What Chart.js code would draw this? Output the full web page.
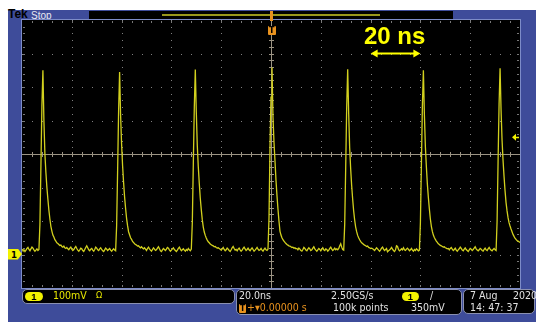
<!DOCTYPE html>
<html><head><meta charset="utf-8">
<script src="https://cdn.jsdelivr.net/npm/chart.js@4"></script>
<style>
html,body{margin:0;padding:0;background:#fff;}
#wrap{position:relative;width:536px;height:322px;overflow:hidden;background:#fff;}
#frame{position:absolute;left:8px;top:10px;width:528px;height:312px;background:#3e4c9a;}
#c{position:absolute;left:0;top:0;}
.ov{position:absolute;}
.t{position:absolute;font-family:"Liberation Sans Narrow","DejaVu Sans Condensed",sans-serif;font-size:10.5px;line-height:11px;color:#e2e2e2;white-space:pre;}
.y{color:#e8e800;}
.o{color:#e8921e;}
.box{position:absolute;background:#000;border:1px solid #8a90b0;border-radius:5px;box-sizing:border-box;}
.pill{position:absolute;background:#f2f200;border-radius:6px;color:#000;font-family:"Liberation Sans Narrow",sans-serif;font-size:9.5px;font-weight:bold;line-height:9px;text-align:center;}
</style></head>
<body>
<div id="wrap">
<div id="frame"></div>
<div class="ov" style="left:89px;top:11px;width:364px;height:9px;background:#000;"></div>
<div class="ov" style="left:162px;top:14px;width:218px;height:1.5px;background:#9a981c;"></div>
<div class="t" style="left:8px;top:8.5px;font-family:'Liberation Sans',sans-serif;font-weight:bold;font-size:12px;color:#000;">Tek</div>
<div class="t" style="left:31px;top:9.5px;font-family:'Liberation Sans',sans-serif;font-size:10px;color:#e8e8f0;">Stop</div>
<canvas id="c" width="536" height="322"></canvas>
<div class="ov" style="left:270px;top:11px;width:3px;height:10px;background:#e8921e;"></div>
<div class="ov" style="left:268px;top:26px;width:8px;height:9px;background:#e8921e;border-radius:1px;"></div>
<div class="t" style="left:269px;top:24.5px;font-size:9px;font-weight:bold;color:#000;">T</div>
<div class="t" style="left:364px;top:22px;font-family:'Liberation Sans',sans-serif;font-weight:bold;font-size:24px;line-height:28px;color:#ffff00;">20 ns</div>
<div id="ch1" class="ov" style="left:8px;top:248px;width:14px;height:11px;background:#f2f200;clip-path:polygon(0 0,70% 0,100% 50%,70% 100%,0 100%);"><div class="t" style="left:3px;top:0px;font-size:9.5px;font-weight:bold;color:#000;">1</div></div>

<div class="box" style="left:22px;top:289px;width:213px;height:15px;"></div>
<div class="pill" style="left:25px;top:291.5px;width:18px;height:9.5px;">1</div>
<div class="t y" style="left:53px;top:290px;">100mV</div>
<div class="t y" style="left:96px;top:290px;font-size:9px;">Ω</div>

<div class="box" style="left:236px;top:289px;width:226px;height:26px;"></div>
<div class="t" style="left:239px;top:290px;">20.0ns</div>
<div class="t" style="left:331px;top:290px;">2.50GS/s</div>
<div class="pill" style="left:402px;top:291.5px;width:17px;height:9.5px;">1</div>
<div class="t" style="left:430px;top:290px;">/</div>
<div class="ov" style="left:239px;top:304px;width:7px;height:9px;background:#e8921e;border-radius:1px;"></div>
<div class="t" style="left:240px;top:302.5px;font-size:8.5px;font-weight:bold;color:#000;">T</div>
<div class="t o" style="left:247px;top:302px;">+▾0.00000 s</div>
<div class="t" style="left:333px;top:302px;">100k points</div>
<div class="t" style="left:411px;top:302px;">350mV</div>

<div class="box" style="left:463px;top:289px;width:72px;height:25px;"></div>
<div class="t" style="left:470px;top:290px;">7 Aug</div>
<div class="t" style="left:513px;top:290px;">2020</div>
<div class="t" style="left:470px;top:302px;">14: 47: 37</div>
</div>
<script>
// Oscilloscope settings
const timeStart = -100;      // ns (left edge of record)
const sampleInterval = 0.4;  // ns between plotted samples
const timeDivs = [-100,-80,-60,-40,-20,0,20,40,60,80,100]; // 20 ns/div
const voltDivs = [-100,0,100,200,300,400,500,600,700];     // 100 mV/div
const triggerLevel = 350;    // mV
const scaleArrow = [40, 60]; // ns, the "20 ns" marker
const scaleArrowLevel = 600; // mV

// Channel 1 voltage samples, mV
const voltage = [
16,12,14,9,13,18,21,15,11,17,22,19,14,10,13,17,12,15,
90,265,445,550,400,300,245,200,165,132,106,84,70,58,52,44,40,35,33,30,27,28,24,22,25,20,18,21,17,
14,19,22,16,12,15,20,24, 18,13,10,14,19,17,12,9, 15,21,26,20,14,11,16,18, 13,10,15,22,19,14,12,17, 20,15,11,9,14,19,16,12, 15,18,13,10,14,17,13,11,
85,250,430,545,415,330,265,215,172,138,108,86,68,59,50,45,39,36,32,30,28,25,26,22,20,23,19,17,20,
16,12,18,22,17,13,10,15, 20,16,12,14,19,23,17,11, 9,14,18,15,12,16,21,19, 14,10,13,17,20,15,12,9, 13,18,22,16,11,14,17,13, 10,15,12,18,14,11,16,
95,270,440,552,425,325,262,212,168,134,104,82,67,57,49,43,38,35,31,29,27,26,23,24,21,19,20,18,16,
13,17,21,15,11,14,19,16, 12,9,14,20,24,18,13,15, 11,16,19,14,10,13,18,22, 17,12,15,19,14,11,16,20, 15,10,13,17,21,16,12,14, 18,13,10,15,19,14,12,16,
110,320,470,558,410,335,280,222,176,136,100,70,58,50,44,40,36,33,30,28,26,25,23,21,22,19,20,17,18,
14,19,16,12,10,15,21,18, 13,11,16,20,17,12,14,19, 23,17,13,10,14,18,15,11, 16,20,14,12,17,15,10,13, 18,22,16,12,15,19,14,17, 14,18,26,32,22,15,13,
90,260,440,553,420,318,255,205,165,130,103,82,68,57,50,44,39,35,33,30,28,26,24,25,21,20,18,19,17,
15,12,16,20,17,13,10,14, 19,22,16,12,15,18,8,11, 13,17,21,16,12,9,14,26, 24,15,11,13,17,14,20,14, 12,16,19,15,11,14,18,13, 10,15,12,17,14,11,13,
95,268,445,550,418,322,262,210,170,136,106,84,69,58,51,45,40,36,32,30,27,26,24,22,23,20,19,17,18,
14,18,21,16,12,15,19,13, 10,14,17,22,18,13,11,16, 20,15,12,9,14,18,16,12, 15,19,23,17,13,11,14,18, 16,12,10,15,19,14,12,17, 21,16,13,11,15,18,14,12,
100,280,450,556,430,340,280,232,190,155,130,110,95,85,76,68,60,54,49,45,42,40,38,36
];

const points = voltage.map((v,i)=>({x: timeStart + i*sampleInterval, y: v}));

const scopePlugin = {
  id:'scope',
  beforeDatasetsDraw(chart){
    const {ctx, chartArea:a, scales:{x, y}} = chart;
    ctx.save();
    ctx.fillStyle = '#000';
    ctx.fillRect(a.left, a.top, a.right-a.left, a.bottom-a.top);
    const xMin = timeDivs[0], xMax = timeDivs[timeDivs.length-1];
    const yMin = voltDivs[0], yMax = voltDivs[voltDivs.length-1];
    const xMinor = (timeDivs[1]-timeDivs[0])/5, yMinor = (voltDivs[1]-voltDivs[0])/5;
    // dotted division lines
    ctx.fillStyle = '#808080';
    timeDivs.forEach(t=>{
      if (t===xMin||t===xMax||t===0) return;
      const px = Math.round(x.getPixelForValue(t));
      for (let v=yMin; v<=yMax; v+=yMinor) ctx.fillRect(px, Math.round(y.getPixelForValue(v)), 1, 1);
    });
    voltDivs.forEach(v=>{
      if (v===yMin||v===yMax||v===300) return;
      const py = Math.round(y.getPixelForValue(v));
      for (let t=xMin; t<=xMax; t+=xMinor) ctx.fillRect(Math.round(x.getPixelForValue(t)), py, 1, 1);
    });
    // edge ticks
    ctx.fillStyle = '#787878';
    for (let t=xMin+xMinor; t<xMax; t+=xMinor){
      const px = Math.round(x.getPixelForValue(t));
      ctx.fillRect(px, a.top+1, 1, 2); ctx.fillRect(px, a.bottom-3, 1, 2);
    }
    for (let v=yMin+yMinor; v<yMax; v+=yMinor){
      const py = Math.round(y.getPixelForValue(v));
      ctx.fillRect(a.left+1, py, 2, 1); ctx.fillRect(a.right-3, py, 2, 1);
    }
    // centre cross
    const cx = Math.round(x.getPixelForValue(0)), cy = Math.round(y.getPixelForValue(300));
    ctx.fillStyle = '#9c9484';
    ctx.fillRect(a.left, cy, a.right-a.left, 1);
    ctx.fillRect(cx, a.top, 1, a.bottom-a.top);
    for (let t=xMin+xMinor; t<xMax; t+=xMinor){
      ctx.fillRect(Math.round(x.getPixelForValue(t)), cy-2, 1, 5);
    }
    for (let v=yMin+yMinor; v<yMax; v+=yMinor){
      ctx.fillRect(cx-2, Math.round(y.getPixelForValue(v)), 5, 1);
    }
    // border
    ctx.strokeStyle = '#7d8cc8';
    ctx.lineWidth = 1;
    ctx.strokeRect(a.left-0.5, a.top-0.5, a.right-a.left+1, a.bottom-a.top+1);
    ctx.restore();
  },
  afterDatasetsDraw(chart){
    const {ctx, chartArea:a, scales:{x, y}} = chart;
    ctx.save();
    // trigger level arrow at right edge
    const ty = y.getPixelForValue(triggerLevel);
    ctx.fillStyle = '#f2f200';
    ctx.beginPath();
    ctx.moveTo(a.right-8, ty); ctx.lineTo(a.right-4, ty-3.5); ctx.lineTo(a.right-4, ty+3.5); ctx.closePath(); ctx.fill();
    ctx.fillRect(a.right-4, ty-0.5, 3, 1.5);
    // 20 ns scale arrow
    const x1 = x.getPixelForValue(scaleArrow[0]), x2 = x.getPixelForValue(scaleArrow[1]);
    const ay = y.getPixelForValue(scaleArrowLevel);
    ctx.strokeStyle = '#ffff00'; ctx.fillStyle = '#ffff00'; ctx.lineWidth = 2;
    ctx.beginPath(); ctx.moveTo(x1+4, ay); ctx.lineTo(x2-4, ay); ctx.stroke();
    ctx.beginPath(); ctx.moveTo(x1, ay); ctx.lineTo(x1+7, ay-4); ctx.lineTo(x1+7, ay+4); ctx.closePath(); ctx.fill();
    ctx.beginPath(); ctx.moveTo(x2, ay); ctx.lineTo(x2-7, ay-4); ctx.lineTo(x2-7, ay+4); ctx.closePath(); ctx.fill();
    ctx.restore();
  }
};

const chart = new Chart(document.getElementById('c'), {
  type:'line',
  data:{ datasets:[{ data: points, borderColor:'#d2d01e', borderWidth:1.3, pointRadius:0, tension:0, fill:false }] },
  options:{
    responsive:false, animation:false, devicePixelRatio:1,
    layout:{ padding:{ left:22, right:16, top:20, bottom:34 } },
    plugins:{ legend:{display:false}, tooltip:{enabled:false} },
    scales:{
      x:{ type:'linear', min:timeDivs[0], max:timeDivs[timeDivs.length-1], display:false },
      y:{ type:'linear', min:voltDivs[0], max:voltDivs[voltDivs.length-1], display:false }
    }
  },
  plugins:[scopePlugin]
});
const gy = chart.scales.y.getPixelForValue(0);
document.getElementById('ch1').style.top = (gy - 6) + 'px';
</script>
</body></html>
